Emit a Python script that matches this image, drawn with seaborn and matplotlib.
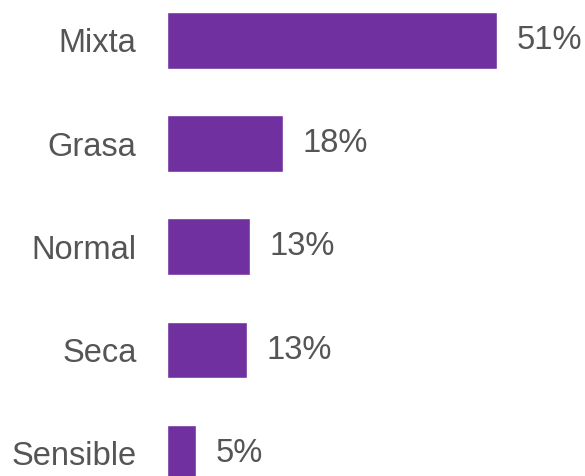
import matplotlib
matplotlib.use("Agg")
import matplotlib.pyplot as plt
import seaborn as sns
import pandas as pd

categories = ["Mixta", "Grasa", "Normal", "Seca", "Sensible"]
values = [51.0, 17.9, 12.8, 12.4, 4.5]
value_labels = ["51%", "18%", "13%", "13%", "5%"]

sns.set_theme(style="white")
plt.rcParams['font.family'] = ['Liberation Sans', 'DejaVu Sans']

df = pd.DataFrame({"cat": categories, "val": values})

fig = plt.figure(figsize=(5.85, 4.76), dpi=100)
ax = fig.add_axes([167/585, 0, (585-167)/585, 1])
sns.barplot(data=df, x="val", y="cat", orient="h", color="#7030A0",
            saturation=1, width=0.55, ax=ax)
ax.set_xlim(0, (585-167)/6.47)
ax.set_ylim(4.22, -0.39)
for s in ax.spines.values():
    s.set_visible(False)
ax.set_xticks([])
ax.set_xlabel("")
ax.set_ylabel("")
ax.tick_params(axis="y", length=0, pad=22, labelsize=23.5, labelcolor="#555555")
ax.bar_label(ax.containers[0], labels=value_labels, padding=14,
             fontsize=23.5, color="#555555")
fig.savefig("out.png", dpi=100)
